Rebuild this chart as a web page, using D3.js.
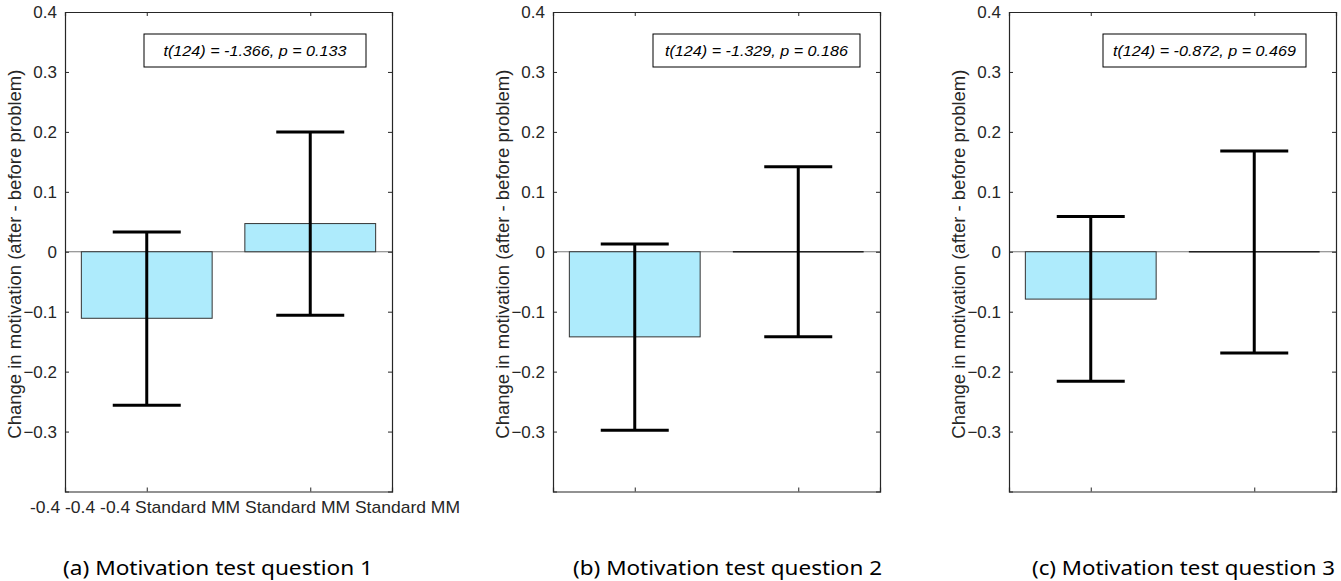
<!DOCTYPE html>
<html>
<head>
<meta charset="utf-8">
<script src="https://cdn.jsdelivr.net/npm/d3@7"></script>
<style>
  body { margin: 0; background: #fff; }
  text { font-family: "Liberation Sans", Arial, sans-serif; }
</style>
</head>
<body>
<div class="chart"></div>
<script>
// data
var groups = ["Standard", "MM"];
var panelTitles = ["(a) Motivation test question 1", "(b) Motivation test question 2", "(c) Motivation test question 3"];
var statLabels = ["t(124) = -1.366, p = 0.133", "t(124) = -1.329, p = 0.186", "t(124) = -0.872, p = 0.469"];
var meanQ1 = [-0.111, 0.047];
var meanQ2 = [-0.142, 0];
var meanQ3 = [-0.079, 0];
var errHiQ1 = [0.033, 0.200];
var errLoQ1 = [-0.256, -0.106];
var errHiQ2 = [0.013, 0.142];
var errLoQ2 = [-0.298, -0.142];
var errHiQ3 = [0.059, 0.168];
var errLoQ3 = [-0.216, -0.169];
var yTicks = [0.4, 0.3, 0.2, 0.1, 0, -0.1, -0.2, -0.3];
var strayLabel = "-0.4 -0.4 -0.4 Standard MM Standard MM Standard MM";

var svgWidth = 1341, svgHeight = 581;

var svg = d3.select(".chart").append("svg")
    .attr("width", svgWidth)
    .attr("height", svgHeight);

// layout of the three panels
var panels = [
  {left: 65, means: meanQ1, hi: errHiQ1, lo: errLoQ1, box: [79, 301], titleX: 63, titleW: 310},
  {left: 553, means: meanQ2, hi: errHiQ2, lo: errLoQ2, box: [100, 307], titleX: 573, titleW: 309},
  {left: 1009, means: meanQ3, hi: errHiQ3, lo: errLoQ3, box: [94, 297], titleX: 1032, titleW: 303}
];
var plotW = 327, plotTop = 12, plotBottom = 491.5;
var axisColor = "#262626";

var y = d3.scaleLinear().domain([-0.4, 0.4]).range([plotBottom, plotTop]);

panels.forEach(function(p, i) {
  var g = svg.append("g").attr("transform", "translate(" + p.left + ",0)");
  var x = d3.scaleLinear().domain([0.5, 2.5]).range([0, plotW]);
  var data = groups.map(function(name, k) {
    return {name: name, pos: k + 1, mean: p.means[k], hi: p.hi[k], lo: p.lo[k]};
  });

  // baseline at zero
  g.append("line")
    .attr("x1", 0).attr("x2", plotW)
    .attr("y1", y(0)).attr("y2", y(0))
    .attr("stroke", "#7a7a7a").attr("stroke-width", 1);

  // bars
  g.selectAll("rect.bar")
    .data(data)
    .enter().append("rect")
    .attr("class", "bar")
    .attr("x", function(d) { return x(d.pos - 0.4); })
    .attr("width", function(d) { return x(d.pos + 0.4) - x(d.pos - 0.4); })
    .attr("y", function(d) { return y(Math.max(0, d.mean)); })
    .attr("height", function(d) { return Math.abs(y(d.mean) - y(0)); })
    .attr("fill", "#aeebfc")
    .attr("stroke", "#333")
    .attr("stroke-width", 1);

  // bars with zero height show up as a dark line
  g.selectAll("line.flat")
    .data(data.filter(function(d) { return d.mean === 0; }))
    .enter().append("line")
    .attr("x1", function(d) { return x(d.pos - 0.4); })
    .attr("x2", function(d) { return x(d.pos + 0.4); })
    .attr("y1", y(0)).attr("y2", y(0))
    .attr("stroke", "#222").attr("stroke-width", 1.3);

  // axes
  var yLeft = d3.axisLeft(y).tickValues(yTicks).tickSize(-4).tickPadding(8)
    .tickFormat(function(d) { return d === 0 ? "0" : d3.format(".1f")(d); });
  var yRight = d3.axisRight(y).tickValues(yTicks).tickSize(-4).tickFormat("");
  var xBottom = d3.axisBottom(x).tickValues([1, 2]).tickSize(-4).tickFormat("");
  var xTop = d3.axisTop(x).tickValues([1, 2]).tickSize(-4).tickFormat("");

  g.append("g").call(yLeft);
  g.append("g").attr("transform", "translate(" + plotW + ",0)").call(yRight);
  g.append("g").attr("transform", "translate(0," + plotBottom + ")").call(xBottom);
  g.append("g").attr("transform", "translate(0," + plotTop + ")").call(xTop);

  g.selectAll(".domain").attr("stroke", axisColor).attr("stroke-width", 1.2);
  g.selectAll(".tick line").attr("stroke", axisColor);
  g.selectAll(".tick text").attr("font-size", 17).attr("fill", axisColor)
    .attr("font-family", "Liberation Sans, Arial, sans-serif");

  // error bars
  var eb = g.selectAll("g.err").data(data).enter().append("g").attr("class", "err");
  eb.append("line")
    .attr("x1", function(d) { return x(d.pos); })
    .attr("x2", function(d) { return x(d.pos); })
    .attr("y1", function(d) { return y(d.hi); })
    .attr("y2", function(d) { return y(d.lo); })
    .attr("stroke", "#000").attr("stroke-width", 3);
  eb.append("line")
    .attr("x1", function(d) { return x(d.pos) - 34; })
    .attr("x2", function(d) { return x(d.pos) + 34; })
    .attr("y1", function(d) { return y(d.hi); })
    .attr("y2", function(d) { return y(d.hi); })
    .attr("stroke", "#000").attr("stroke-width", 3);
  eb.append("line")
    .attr("x1", function(d) { return x(d.pos) - 34; })
    .attr("x2", function(d) { return x(d.pos) + 34; })
    .attr("y1", function(d) { return y(d.lo); })
    .attr("y2", function(d) { return y(d.lo); })
    .attr("stroke", "#000").attr("stroke-width", 3);

  // y-axis label
  g.append("text")
    .attr("transform", "translate(-44," + y(-0.004) + ") rotate(-90)")
    .attr("text-anchor", "middle")
    .attr("font-size", 18.5)
    .attr("fill", axisColor)
    .text("Change in motivation (after - before problem)");

  // t-test box
  var boxTop = 34, boxH = 33;
  g.append("rect")
    .attr("x", p.box[0]).attr("y", boxTop)
    .attr("width", p.box[1] - p.box[0]).attr("height", boxH)
    .attr("fill", "#fff").attr("stroke", "#000").attr("stroke-width", 1);
  g.append("text")
    .attr("x", (p.box[0] + p.box[1]) / 2)
    .attr("y", boxTop + boxH / 2 + 5)
    .attr("text-anchor", "middle")
    .attr("font-size", 15)
    .attr("textLength", 183)
    .attr("lengthAdjust", "spacingAndGlyphs")
    .attr("font-style", "italic")
    .attr("fill", "#000")
    .text(statLabels[i]);

  // caption under the panel
  svg.append("text")
    .attr("x", p.titleX)
    .attr("y", 575)
    .attr("font-size", 20)
    .attr("textLength", p.titleW)
    .attr("lengthAdjust", "spacingAndGlyphs")
    .style("font-family", "'Noto Sans', 'Open Sans', sans-serif")
    .attr("fill", "#000")
    .text(panelTitles[i]);
});

// overlapping tick labels under panel (a), as in the original
svg.append("text")
  .attr("x", 30)
  .attr("y", 513)
  .attr("font-size", 17)
  .attr("fill", axisColor)
  .attr("textLength", 430)
  .attr("lengthAdjust", "spacingAndGlyphs")
  .text(strayLabel);
</script>
</body>
</html>
